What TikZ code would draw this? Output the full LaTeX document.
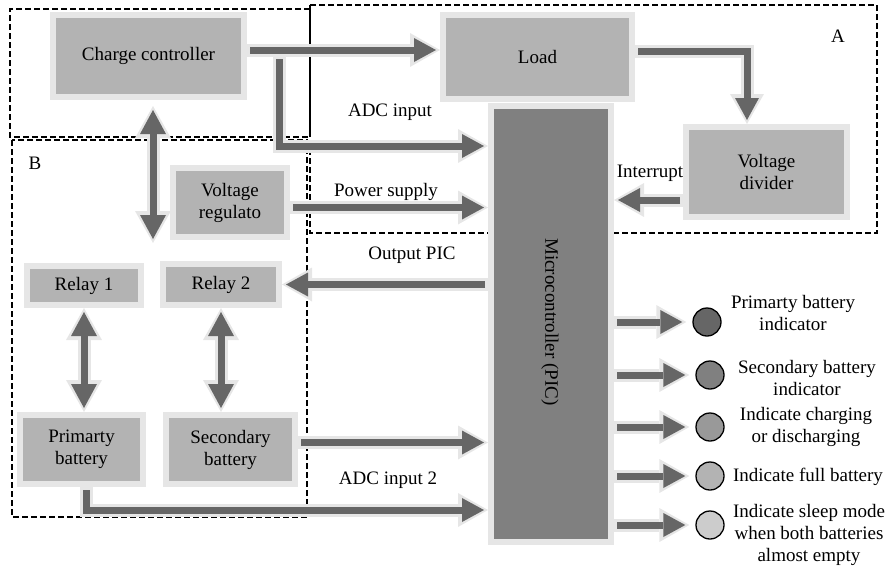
\documentclass[tikz,border=0pt]{standalone}
\usepackage{fontspec}
\setmainfont{Liberation Serif}
\usepackage{tikz}
\usetikzlibrary{arrows.meta}
\usepackage{xcolor}
\definecolor{boxgray}{RGB}{179,179,179}
\definecolor{rimgray}{RGB}{230,230,230}
\definecolor{picgray}{RGB}{128,128,128}
\definecolor{pipegray}{RGB}{102,102,102}
\definecolor{ledA}{RGB}{102,102,102}
\definecolor{ledB}{RGB}{128,128,128}
\definecolor{ledC}{RGB}{153,153,153}
\definecolor{ledD}{RGB}{179,179,179}
\definecolor{ledE}{RGB}{204,204,204}

\begin{document}
\begin{tikzpicture}[x=1pt,y=-1pt,
  every node/.style={font=\fontsize{19}{22}\selectfont},
  blockbox/.style={draw=rimgray,line width=6pt,fill=boxgray,inner sep=0pt,align=center},
  region/.style={line width=1.6pt,dash pattern=on 6pt off 3pt},
  halo/.style={draw=rimgray,line width=13pt,shorten <=0pt,shorten >=0pt},
  pipe/.style={draw=pipegray,line width=7pt,-{Triangle[length=22pt,width=24pt,line width=0pt]},
    shorten <=3pt,shorten >=4pt,
    preaction={halo,-{Triangle[length=30pt,width=34pt,line width=0pt]}}},
  twopipe/.style={draw=pipegray,line width=7pt,
    {Triangle[length=24pt,width=26pt,line width=0pt]}-{Triangle[length=24pt,width=26pt,line width=0pt]},
    shorten <=4pt,shorten >=4pt,
    preaction={halo,{Triangle[length=32pt,width=36pt,line width=0pt]}-{Triangle[length=32pt,width=36pt,line width=0pt]}}},
  led/.style={circle,draw=black,line width=1.3pt,minimum size=28pt,inner sep=0pt}]
\useasboundingbox (0,0) rectangle (889,571);
% dashed regions
\draw[region] (310,9) -- (10,9) -- (10,137) -- (310,137);
\draw[region] (310,5) rectangle (877,233); % A
\draw[line width=1.2pt] (310,5) -- (310,137);
\draw[region] (12,140) rectangle (307,517); % B
\node (lblA) at (838,36) {A};
\node (lblB) at (35,163) {B};
% blocks
\node[blockbox,minimum width=191pt,minimum height=82pt] (cc) at (148.5,56) {Charge controller};
\node[blockbox,minimum width=189pt,minimum height=84pt] (load) at (537.5,57) {Load};
\node[blockbox,fill=picgray,minimum width=120pt,minimum height=436pt] (pic) at (551,324) {};
\node[rotate=-90] (pictext) at (550,322) {Microcontroller (PIC)};
\node[blockbox,minimum width=161pt,minimum height=90pt] (vdiv) at (766.5,172) {Voltage\\divider};
\node[blockbox,minimum width=114pt,minimum height=69pt] (vreg) at (230,202.5) {Voltage\\regulato};
\node[blockbox,minimum width=114pt,minimum height=39pt] (rly1) at (84,285.5) {Relay 1};
\node[blockbox,minimum width=116pt,minimum height=41pt] (rly2) at (221,284.5) {Relay 2};
\node[blockbox,minimum width=123pt,minimum height=69pt] (pbat) at (81.5,449.5) {Primarty\\battery};
\node[blockbox,minimum width=129pt,minimum height=69pt] (sbat) at (230.5,449.5) {Secondary\\battery};
% connectors
\draw[pipe] ([yshift=6pt]cc.east) -- ([yshift=6pt]cc.east -| load.west);
\draw[pipe] ([yshift=6pt]load.east) -| ([xshift=-19.5pt]vdiv.north);
\coordinate (adcA) at (279,146);
\draw[pipe] (adcA |- cc.east) -- (adcA) -- (adcA -| pic.west);
\node (adcAtxt) at (390,112) {ADC input};
\coordinate (pwr) at ([yshift=-5pt]vreg.east);
\draw[pipe] (pwr) -- (pwr -| pic.west);
\node (pwrtxt) at (386,192) {Power supply};
\coordinate (intr) at ([yshift=-28pt]vdiv.west);
\draw[pipe] (intr) -- (intr -| pic.east);
\node (intrtxt) at (650,173) {Interrupt};
\draw[pipe] (pic.west |- rly2.east) -- (rly2.east);
\node (outtxt) at (412,255) {Output PIC};
\coordinate (sb) at ([yshift=7pt]sbat.east);
\draw[pipe] (sb) -- (sb -| pic.west);
\coordinate (adcB) at (86,510);
\draw[pipe] (adcB |- pbat.south) -- (adcB) -- (adcB -| pic.west);
\node (adcBtxt) at (388,480) {ADC input 2};
\coordinate (ccdown) at (153,243);
\coordinate (cctop) at ([yshift=-6pt]cc.south);
\draw[twopipe] (ccdown |- cctop) -- (ccdown);
\draw[twopipe] (rly1.south) -- (rly1.south |- pbat.north);
\draw[twopipe] (rly2.south) -- (rly2.south |- sbat.north);
% indicators
\foreach \ly/\lx/\shade/\tx/\ty/\txt [count=\i] in {
322/707/ledA/793/313/{Primarty battery\\indicator},
375/710/ledB/807/378/{Secondary battery\\indicator},
427/710/ledC/806/427/{Indicate charging\\or discharging},
476/710/ledD/808/477/{Indicate full battery},
525/710/ledE/809/535/{Indicate sleep mode\\when both batteries\\almost empty}}{
\node[led,fill=\shade] (led\i) at (\lx,\ly) {};
\node[align=center] (ledtxt\i) at (\tx,\ty) {\txt};
\draw[pipe] (pic.east |- led\i) -- ([xshift=-6pt]led\i.west);
}
\end{tikzpicture}
\end{document}
